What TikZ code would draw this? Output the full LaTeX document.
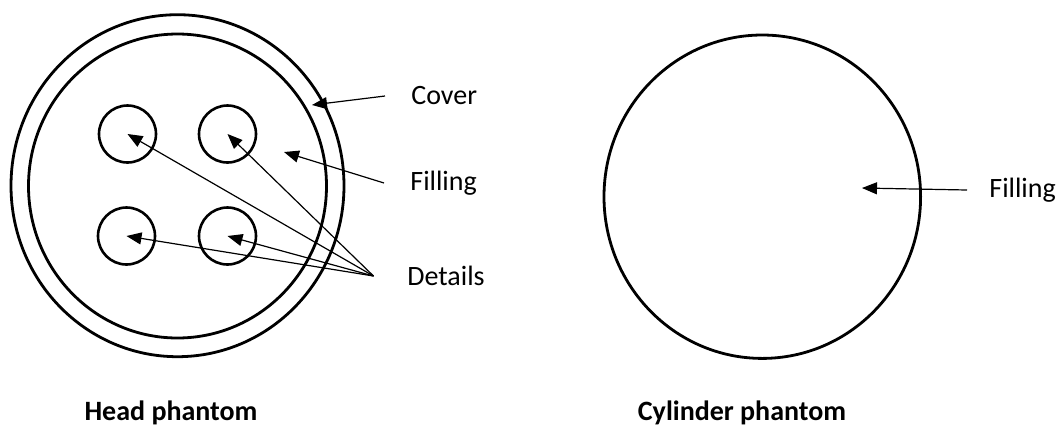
\documentclass[tikz,border=0pt]{standalone}
\usepackage{fontspec}
\setmainfont{Carlito}
\usetikzlibrary{arrows.meta}
\tikzset{
  ring/.style={line width=1.4pt},
  pointer/.style={line width=0.6pt, -{Triangle[length=7.5pt,width=6pt]}},
  lbl/.style={font=\fontsize{14}{16}\selectfont, inner xsep=13pt, inner ysep=0pt, anchor=west},
  title/.style={font=\fontsize{14}{16}\selectfont\bfseries, inner sep=0pt},
  detail/.style={circle, draw, line width=1.3pt, minimum size=28.5pt, inner sep=0pt}
}
\begin{document}
\begin{tikzpicture}[x=0.5pt,y=-0.5pt]
    \useasboundingbox (0,0) rectangle (1062,425);

    % Head phantom: cover and filling
    \draw[ring] (177.5,185.7) ellipse [x radius=166.5, y radius=171];
    \draw[ring] (177.5,186) ellipse [x radius=149, y radius=152];

    % Details
    \node[detail] (d1) at (127.5,134) {};
    \node[detail] (d2) at (227.5,134) {};
    \node[detail] (d3) at (126.5,236) {};
    \node[detail] (d4) at (227.5,236) {};

    % Cylinder phantom
    \draw[ring] (762.3,196.7) ellipse [x radius=158.3, y radius=161.7];

    % Labels
    \node[lbl] (cover) at (385,96) {Cover};
    \node[lbl] (fill) at (384,183) {Filling};
    \node[lbl, inner xsep=16.75pt] (details) at (373.5,276) {Details};
    \node[lbl, inner xsep=11pt] (cfill) at (967,190) {Filling};
    \node[title] (head) at (171,413) {Head phantom};
    \node[title] (cyl) at (742,413) {Cylinder phantom};

    % Arrows
    \coordinate (covertip) at (312,105);
    \coordinate (filltip) at (284,152);
    \coordinate (cfilltip) at (862,188);
    \draw[pointer] (cover.west) -- (covertip);
    \draw[pointer] (fill.west) -- (filltip);
    \foreach \d in {d1,d2,d3,d4}
        \draw[pointer] (details.west) -- (\d.center);
    \draw[pointer] (cfill.west) -- (cfilltip);
\end{tikzpicture}
\end{document}
